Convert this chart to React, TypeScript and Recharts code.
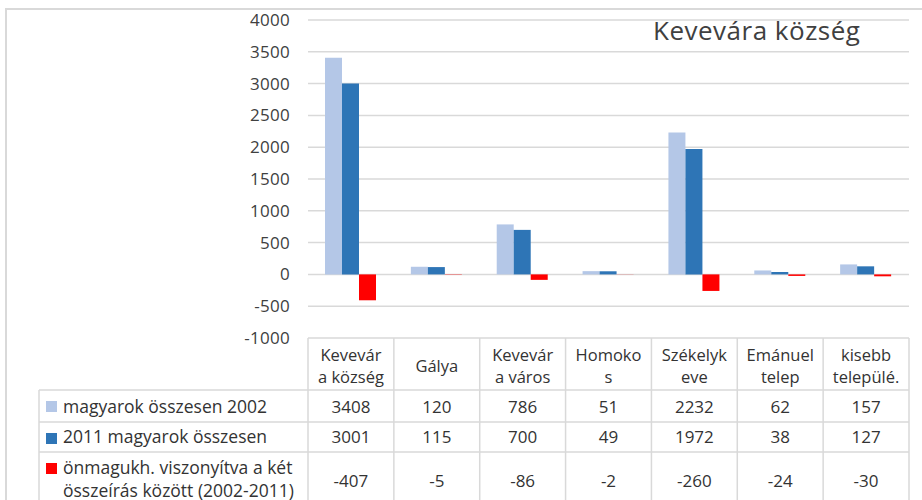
import { BarChart, Bar, XAxis, YAxis, CartesianGrid, Customized } from "recharts";

const CATEGORIES = [
  "Kevevár\na község",
  "Gálya",
  "Kevevár\na város",
  "Homoko\ns",
  "Székelyk\neve",
  "Emánuel\ntelep",
  "kisebb\ntelepülé.",
];
const MAGYAR_2002 = [3408, 120, 786, 51, 2232, 62, 157];
const MAGYAR_2011 = [3001, 115, 700, 49, 1972, 38, 127];
const VALTOZAS = [-407, -5, -86, -2, -260, -24, -30];
const Y_TICKS = [-1000, -500, 0, 500, 1000, 1500, 2000, 2500, 3000, 3500, 4000];

const SERIES = [
  { key: "m2002", label: ["magyarok összesen 2002"], color: "#b4c7e7", values: MAGYAR_2002 },
  { key: "m2011", label: ["2011 magyarok összesen"], color: "#2e75b6", values: MAGYAR_2011 },
  {
    key: "diff",
    label: ["önmagukh. viszonyítva a két", "összeírás között (2002-2011)"],
    color: "#ff0000",
    values: VALTOZAS,
  },
];

const data = CATEGORIES.map((name, i) => ({
  name,
  m2002: MAGYAR_2002[i],
  m2011: MAGYAR_2011[i],
  diff: VALTOZAS[i],
}));

const W = 922;
const H = 500;
const PLOT_LEFT = 308;
const PLOT_RIGHT = 909;
const BAND = (PLOT_RIGHT - PLOT_LEFT) / CATEGORIES.length;
const TABLE_TOP = 338;
const ROWS = [390, 422, 452, 512];
const TABLE_LEFT = 39;
const LINE = "#d9d9d9";
const FONT = "'Open Sans', sans-serif";
const TXT = "#333333";

const YTick = (p: any) => (
  <text x={290} y={p.y} dy={6} textAnchor="end" fontSize={17} letterSpacing={0.3} fill="#404040" fontFamily={FONT}>
    {p.payload.value}
  </text>
);

const TableColumn = (p: any) => {
  const { x, index, payload } = p;
  const left = x - BAND / 2;
  const right = x + BAND / 2;
  const lines = String(payload.value).split("\n");
  const headBase = lines.length > 1 ? [361, 383] : [372];
  const rowBase = [413, 443, 487];
  return (
    <g>
      <line x1={left} x2={left} y1={TABLE_TOP} y2={ROWS[3]} stroke={LINE} strokeWidth={1.5} />
      {index === CATEGORIES.length - 1 && (
        <line x1={right} x2={right} y1={TABLE_TOP} y2={ROWS[3]} stroke={LINE} strokeWidth={1.5} />
      )}
      {lines.map((l, k) => (
        <text key={k} x={x} y={headBase[k]} textAnchor="middle" fontSize={16.5} fill={TXT} fontFamily={FONT}>
          {l}
        </text>
      ))}
      {SERIES.map((s, r) => (
        <text key={s.key} x={x} y={rowBase[r]} textAnchor="middle" fontSize={17} fill={TXT} fontFamily={FONT}>
          {s.values[index]}
        </text>
      ))}
    </g>
  );
};

const LegendColumn = () => {
  const swatchY = [401, 433, 463];
  const textY = [413, 443, 474];
  return (
    <g>
      {ROWS.slice(0, 3).map((y) => (
        <line key={y} x1={TABLE_LEFT} x2={PLOT_RIGHT} y1={y} y2={y} stroke={LINE} strokeWidth={1.5} />
      ))}
      <line x1={TABLE_LEFT} x2={TABLE_LEFT} y1={ROWS[0]} y2={ROWS[3]} stroke={LINE} strokeWidth={1.5} />
      {SERIES.map((s, r) => (
        <g key={s.key}>
          <rect x={46} y={swatchY[r]} width={11} height={11} fill={s.color} />
          {s.label.map((l, k) => (
            <text key={k} x={63} y={textY[r] + k * 22.5} fontSize={17.5} fill={TXT} fontFamily={FONT}>
              {l}
            </text>
          ))}
        </g>
      ))}
      <text x={653} y={40} fontSize={26} letterSpacing={0.5} fill="#404040" fontFamily={FONT}>
        Kevevára község
      </text>
    </g>
  );
};

export default function App() {
  return (
    <div style={{ position: "absolute", left: 0, top: 0, width: W, height: H, background: "#fff", overflow: "hidden" }}>
      <div
        style={{
          position: "absolute",
          left: 5,
          top: 8,
          width: 940,
          height: 600,
          borderLeft: `2px solid ${LINE}`,
          borderTop: `2px solid ${LINE}`,
        }}
      />
      <div style={{ position: "absolute", left: 0, top: 0 }}>
        <BarChart
          width={W}
          height={H}
          data={data}
          margin={{ top: 20, right: W - PLOT_RIGHT, bottom: 0, left: 0 }}
          barGap={0}
          barSize={17}
        >
          <CartesianGrid vertical={false} stroke={LINE} strokeWidth={1.5} />
          <YAxis
            width={PLOT_LEFT}
            domain={[-1000, 4000]}
            ticks={Y_TICKS}
            axisLine={false}
            tickLine={false}
            tick={YTick}
            interval={0}
          />
          <XAxis
            dataKey="name"
            height={H - TABLE_TOP}
            axisLine={false}
            tickLine={false}
            interval={0}
            tick={TableColumn}
          />
          {SERIES.map((s) => (
            <Bar key={s.key} dataKey={s.key} fill={s.color} isAnimationActive={false} />
          ))}
          <Customized component={LegendColumn} />
        </BarChart>
      </div>
    </div>
  );
}
